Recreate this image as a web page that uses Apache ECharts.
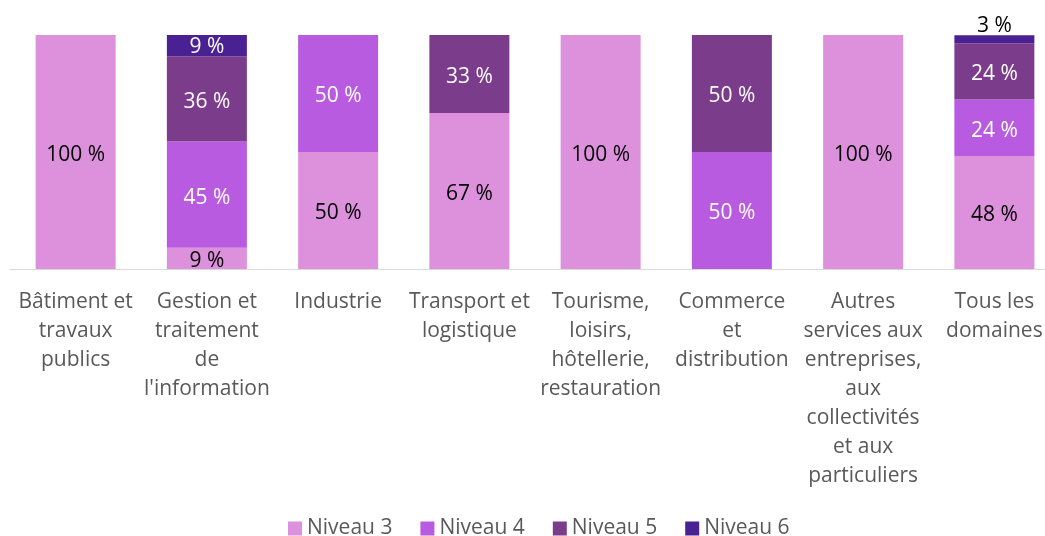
<!DOCTYPE html>
<html>
<head>
<meta charset="utf-8">
<script src="https://cdn.jsdelivr.net/npm/echarts@6/dist/echarts.min.js"></script>
<style>
  html, body { margin: 0; padding: 0; background: #fff; }
  #chart { width: 1045px; height: 536px; }
</style>
</head>
<body>
<div id="chart"></div>
<script>
// domaines
const categories = [
  'Bâtiment et\ntravaux\npublics',
  'Gestion et\ntraitement\nde\nl\'information',
  'Industrie',
  'Transport et\nlogistique',
  'Tourisme,\nloisirs,\nhôtellerie,\nrestauration',
  'Commerce\net\ndistribution',
  'Autres\nservices aux\nentreprises,\naux\ncollectivités\net aux\nparticuliers',
  'Tous les\ndomaines'
]
const niveau3 = [100, 9.1, 50, 66.7, 100, 0, 100, 48.3]
const niveau4 = [0, 45.4, 50, 0, 0, 50, 0, 24.1]
const niveau5 = [0, 36.4, 0, 33.3, 0, 50, 0, 24.1]
const niveau6 = [0, 9.1, 0, 0, 0, 0, 0, 3.4]

const colors = ['#dd91dd', '#b95be0', '#7b3c8c', '#4a2193']
const font = '"Open Sans", "Noto Sans", sans-serif'
const fontSize = 21

function pct (p) {
  return p.value ? Math.round(p.value) + ' %' : ''
}

function serie (name, values, color, textColor) {
  return {
    name: name,
    type: 'bar',
    stack: 'total',
    barWidth: 80,
    itemStyle: { color: color },
    label: {
      show: true,
      position: 'inside',
      offset: [0, 3],
      color: textColor,
      fontFamily: font,
      fontSize: fontSize,
      formatter: pct
    },
    data: values
  }
}

const series = [
  serie('Niveau 3', niveau3, colors[0], '#000'),
  serie('Niveau 4', niveau4, colors[1], '#fff'),
  serie('Niveau 5', niveau5, colors[2], '#fff'),
  serie('Niveau 6', niveau6, colors[3], '#fff')
]
// petits segments : libellé en dehors
series[0].data = niveau3.map((v, i) => i === 1 ? { value: v, label: { position: 'insideBottom', distance: -3, offset: [0, 0] } } : v)
series[3].data = niveau6.map((v, i) => i === 1 ? { value: v, label: { offset: [0, 1] } } : (i === 7 ? { value: v, label: { position: 'top', color: '#000', distance: 0, offset: [0, 1] } } : v))

const myChart = echarts.init(document.getElementById('chart'))
myChart.setOption({
  animation: false,
  grid: { left: 10, top: 35, width: 1050, bottom: 267, outerBoundsMode: 'none' },
  legend: {
    top: 513,
    left: 283,
    itemWidth: 14,
    itemHeight: 14,
    itemGap: 28,
    icon: 'rect',
    textStyle: { color: '#595959', fontFamily: font, fontSize: fontSize },
    data: ['Niveau 3', 'Niveau 4', 'Niveau 5', 'Niveau 6']
  },
  xAxis: {
    type: 'category',
    data: categories,
    axisTick: { show: false },
    axisLine: { lineStyle: { color: '#d9d9d9', width: 1 } },
    axisLabel: {
      interval: 0,
      margin: 19,
      color: '#595959',
      fontFamily: font,
      fontSize: fontSize,
      lineHeight: 29
    }
  },
  yAxis: {
    type: 'value',
    min: 0,
    max: 100,
    show: false
  },
  series: series
})
</script>
</body>
</html>
